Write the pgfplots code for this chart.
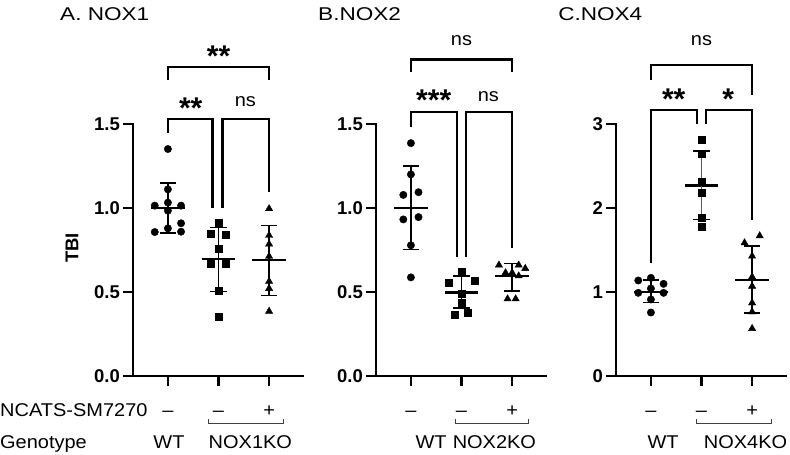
\documentclass[border=0pt]{standalone}
\usepackage{fontspec}
\setmainfont[FakeStretch=1.08]{Liberation Sans}
\newfontfamily\tickfont{Liberation Sans}
\usepackage{pgfplots}
\pgfplotsset{compat=1.18}
\newcommand\fs{\fontsize{18.5}{21}\selectfont}
\newcommand\st[1]{{\tickfont\fontsize{30}{30}\selectfont\bfseries #1}}
\pgfplotsset{
  panel/.style={
    scale only axis, width=170pt, height=252pt,
    xmin=-0.69, xmax=2.67, ymin=0,
    axis x line=bottom, axis y line=left,
    axis line style={-, line width=2.4pt, line cap=rect},
    every outer x axis line/.append style={-},
    every outer y axis line/.append style={-},
    xtick={0,1,2}, xticklabels={},
    tick align=outside, major tick length=10pt,
    tick style={line width=2.2pt, black},
    yticklabel style={font=\tickfont\fs\bfseries, inner sep=0pt, anchor=east, xshift=-3pt},
    /pgf/number format/assume math mode=true,
    clip=false,
  },
  meanl/.style={black, line width=2.5pt, forget plot},
  sdl/.style={black, line width=1.3pt, forget plot},
  capl/.style={black, line width=1.5pt, forget plot},
  brk/.style={black, line width=2.4pt, line join=miter, forget plot},
  pts/.style={only marks, black, forget plot},
}
\tikzset{ttl/.style={anchor=base west, inner sep=0pt, xscale=1.22, font=\tickfont\fs}}
\begin{document}
\begin{tikzpicture}
\useasboundingbox (0,0) rectangle (790pt,455pt);
\node[ttl] at (60pt,434.7pt) {A. NOX1};
\node[ttl] at (318pt,434.7pt) {B.NOX2};
\node[ttl] at (558pt,434.7pt) {C.NOX4};
\node[rotate=90, inner sep=0pt, font=\tickfont\fs\bfseries] at (72pt,207pt) {TBI};
\node[anchor=base west, inner sep=0pt, font=\fs] at (0pt,38.3pt) {NCATS-SM7270};
\node[anchor=base west, inner sep=0pt, font=\fs] at (0pt,6.7pt) {Genotype};

% ---------------- Panel A ----------------
\begin{axis}[panel, at={(133pt,79pt)}, anchor=south west, ymax=1.5, ytick={0,0.5,1,1.5},
  yticklabel={\pgfmathprintnumber[fixed,fixed zerofill,precision=1]{\tick}}]
\addplot[pts, mark=*, mark size=3.7pt] coordinates {(0,1.351) (0,1.111) (0,1.032) (-0.26,1.014) (0.26,1.014) (0,0.984) (0.26,0.909) (0,0.879) (-0.26,0.857) (0.26,0.859)};
\addplot[pts, mark=square*, mark size=3.6pt] coordinates {(1,0.909) (0.85,0.849) (1.15,0.843) (1,0.756) (0.85,0.667) (1.15,0.667) (1,0.506) (1,0.353)};
\addplot[pts, mark=triangle*, mark size=4.2pt] coordinates {(2,0.996) (2,0.837) (2,0.785) (2,0.712) (2,0.563) (2,0.521) (2,0.385)};
\addplot[meanl] coordinates {(-0.33,1.0) (0.33,1.0)};
\addplot[sdl] coordinates {(0,0.85) (0,1.15)};
\addplot[capl] coordinates {(-0.165,1.15) (0.165,1.15)};
\addplot[capl] coordinates {(-0.165,0.85) (0.165,0.85)};
\addplot[meanl] coordinates {(0.67,0.695) (1.33,0.695)};
\addplot[sdl] coordinates {(1,0.502) (1,0.884)};
\addplot[capl] coordinates {(0.835,0.884) (1.165,0.884)};
\addplot[capl] coordinates {(0.835,0.502) (1.165,0.502)};
\addplot[meanl] coordinates {(1.67,0.69) (2.33,0.69)};
\addplot[sdl] coordinates {(2,0.478) (2,0.897)};
\addplot[capl] coordinates {(1.835,0.897) (2.165,0.897)};
\addplot[capl] coordinates {(1.835,0.478) (2.165,0.478)};
% brackets
\addplot[brk] coordinates {(0,1.762) (0,1.84) (2,1.84) (2,1.762)};
\addplot[brk] coordinates {(0,1.445) (0,1.528) (0.88,1.528) (0.88,0.998)};
\addplot[brk] coordinates {(1.08,0.998) (1.08,1.528) (2,1.528) (2,1.097)};
\node[anchor=base, inner sep=0pt] at (axis cs:1,1.845) {\st{**}};
\node[anchor=base, inner sep=0pt] at (axis cs:0.45,1.535) {\st{**}};
\node[anchor=base, inner sep=0pt, font=\fs] at (axis cs:1.53,1.607) {ns};
% bottom labels
\node[anchor=base, inner sep=0pt, font=\fs] at ([yshift=-40.7pt]axis cs:0,0) {–};
\node[anchor=base, inner sep=0pt, font=\fs] at ([yshift=-40.7pt]axis cs:1,0) {–};
\node[anchor=base, inner sep=0pt, font=\fs] at ([yshift=-40.7pt]axis cs:2,0) {+};
\draw[line width=1pt, black!75] ([yshift=-43pt]axis cs:0.80,0) -- ([yshift=-48pt]axis cs:0.80,0) -- ([yshift=-48pt]axis cs:2.28,0) -- ([yshift=-43pt]axis cs:2.28,0);
\node[anchor=base, inner sep=0pt, font=\fs] at ([yshift=-72.3pt]axis cs:0.02,0) {WT};
\node[anchor=base, inner sep=0pt, font=\fs] at ([yshift=-72.3pt]axis cs:1.63,0) {NOX1KO};
\end{axis}

% ---------------- Panel B ----------------
\begin{axis}[panel, at={(376pt,79pt)}, anchor=south west, ymax=1.5, ytick={0,0.5,1,1.5},
  yticklabel={\pgfmathprintnumber[fixed,fixed zerofill,precision=1]{\tick}}]
\addplot[pts, mark=*, mark size=3.7pt] coordinates {(0,1.386) (0,1.200) (-0.15,1.078) (0.15,1.094) (-0.15,0.932) (0.15,0.946) (0,0.778) (0,0.587)};
\addplot[pts, mark=square*, mark size=3.6pt] coordinates {(1,0.62) (0.74,0.555) (1.26,0.565) (1,0.492) (1,0.433) (1.13,0.378) (0.87,0.364)};
\addplot[pts, mark=triangle*, mark size=4.2pt] coordinates {(1.74,0.66) (2.13,0.66) (2.26,0.64) (1.87,0.614) (2,0.614) (2.13,0.596) (1.91,0.459) (2.07,0.459)};
\addplot[meanl] coordinates {(-0.33,1.0) (0.33,1.0)};
\addplot[sdl] coordinates {(0,0.754) (0,1.25)};
\addplot[capl] coordinates {(-0.165,1.25) (0.165,1.25)};
\addplot[capl] coordinates {(-0.165,0.754) (0.165,0.754)};
\addplot[meanl] coordinates {(0.67,0.498) (1.33,0.498)};
\addplot[sdl] coordinates {(1,0.404) (1,0.595)};
\addplot[capl] coordinates {(0.835,0.595) (1.165,0.595)};
\addplot[capl] coordinates {(0.835,0.404) (1.165,0.404)};
\addplot[meanl] coordinates {(1.67,0.595) (2.33,0.595)};
\addplot[sdl] coordinates {(2,0.506) (2,0.67)};
\addplot[capl] coordinates {(1.835,0.67) (2.165,0.67)};
\addplot[capl] coordinates {(1.835,0.506) (2.165,0.506)};
\addplot[brk] coordinates {(0,1.81) (0,1.885) (2,1.885) (2,1.81)};
\addplot[brk] coordinates {(0,1.48) (0,1.573) (0.907,1.573) (0.907,0.71)};
\addplot[brk] coordinates {(1.093,0.71) (1.093,1.573) (2,1.573) (2,0.764)};
\node[anchor=base, inner sep=0pt, font=\fs] at (axis cs:1,1.97) {ns};
\node[anchor=base, inner sep=0pt] at (axis cs:0.45,1.58) {\st{***}};
\node[anchor=base, inner sep=0pt, font=\fs] at (axis cs:1.53,1.632) {ns};
\node[anchor=base, inner sep=0pt, font=\fs] at ([yshift=-40.7pt]axis cs:0,0) {–};
\node[anchor=base, inner sep=0pt, font=\fs] at ([yshift=-40.7pt]axis cs:1,0) {–};
\node[anchor=base, inner sep=0pt, font=\fs] at ([yshift=-40.7pt]axis cs:2,0) {+};
\draw[line width=1pt, black!75] ([yshift=-43pt]axis cs:0.89,0) -- ([yshift=-48pt]axis cs:0.89,0) -- ([yshift=-48pt]axis cs:2.33,0) -- ([yshift=-43pt]axis cs:2.33,0);
\node[anchor=base, inner sep=0pt, font=\fs] at ([yshift=-72.3pt]axis cs:0.40,0) {WT};
\node[anchor=base, inner sep=0pt, font=\fs] at ([yshift=-72.3pt]axis cs:1.65,0) {NOX2KO};
\end{axis}

% ---------------- Panel C ----------------
\begin{axis}[panel, at={(616pt,79pt)}, anchor=south west, ymax=3, ytick={0,1,2,3}]
\addplot[pts, mark=*, mark size=3.7pt] coordinates {(-0.25,1.137) (0,1.168) (0.25,1.097) (0,1.042) (-0.25,0.99) (0.25,0.99) (0,0.911) (0,0.756)};
\addplot[pts, mark=square*, mark size=3.6pt] coordinates {(1,2.81) (1,2.65) (1,2.31) (1,2.186) (1,1.888) (1,1.776)};
\addplot[pts, mark=triangle*, mark size=4.2pt] coordinates {(1.85,1.585) (2.15,1.669) (2,1.427) (2,1.18) (2,1.069) (2,0.87) (2,0.763) (2,0.565)};
\addplot[meanl] coordinates {(-0.33,1.0) (0.33,1.0)};
\addplot[sdl] coordinates {(0,0.873) (0,1.14)};
\addplot[capl] coordinates {(-0.165,1.14) (0.165,1.14)};
\addplot[capl] coordinates {(-0.165,0.873) (0.165,0.873)};
\addplot[meanl] coordinates {(0.67,2.27) (1.33,2.27)};
\addplot[sdl, black!65] coordinates {(1,1.864) (1,2.68)};
\addplot[capl] coordinates {(0.835,2.68) (1.165,2.68)};
\addplot[capl] coordinates {(0.835,1.864) (1.165,1.864)};
\addplot[meanl] coordinates {(1.67,1.14) (2.33,1.14)};
\addplot[sdl] coordinates {(2,0.751) (2,1.546)};
\addplot[capl] coordinates {(1.835,1.546) (2.165,1.546)};
\addplot[capl] coordinates {(1.835,0.751) (2.165,0.751)};
\addplot[brk] coordinates {(0,3.524) (0,3.70) (2,3.70) (2,3.345)};
\addplot[brk] coordinates {(0,1.342) (0,3.167) (0.91,3.167) (0.91,3.0)};
\addplot[brk] coordinates {(1.09,3.0) (1.09,3.167) (2,3.167) (2,1.857)};
\node[anchor=base, inner sep=0pt, font=\fs] at (axis cs:1,3.94) {ns};
\node[anchor=base, inner sep=0pt] at (axis cs:0.45,3.175) {\st{**}};
\node[anchor=base, inner sep=0pt] at (axis cs:1.53,3.175) {\st{*}};
\node[anchor=base, inner sep=0pt, font=\fs] at ([yshift=-40.7pt]axis cs:0,0) {–};
\node[anchor=base, inner sep=0pt, font=\fs] at ([yshift=-40.7pt]axis cs:1,0) {–};
\node[anchor=base, inner sep=0pt, font=\fs] at ([yshift=-40.7pt]axis cs:2,0) {+};
\draw[line width=1pt, black!75] ([yshift=-43pt]axis cs:0.91,0) -- ([yshift=-48pt]axis cs:0.91,0) -- ([yshift=-48pt]axis cs:2.39,0) -- ([yshift=-43pt]axis cs:2.39,0);
\node[anchor=base, inner sep=0pt, font=\fs] at ([yshift=-72.3pt]axis cs:0.24,0) {WT};
\node[anchor=base, inner sep=0pt, font=\fs] at ([yshift=-72.3pt]axis cs:1.87,0) {NOX4KO};
\end{axis}
\end{tikzpicture}
\end{document}
